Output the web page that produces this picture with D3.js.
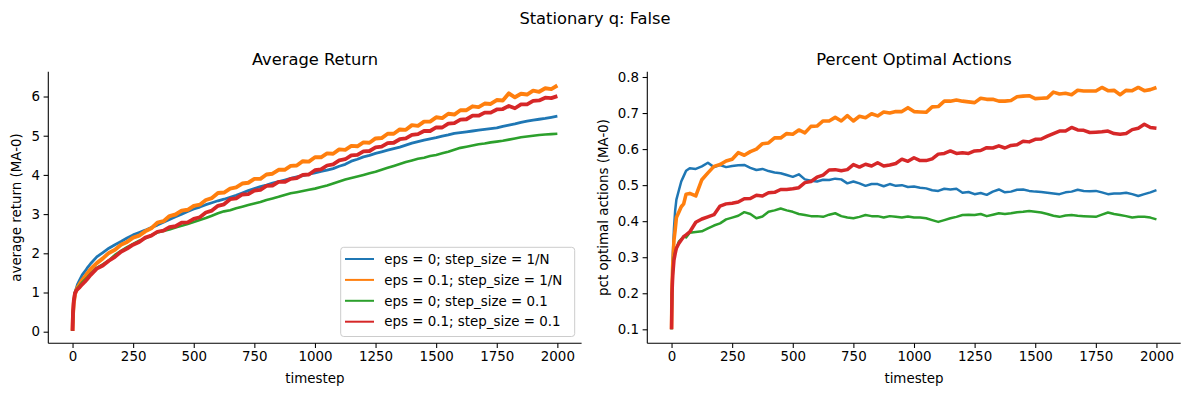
<!DOCTYPE html>
<html>
<head>
<meta charset="utf-8">
<script src="https://cdn.jsdelivr.net/npm/d3@7"></script>
<style>
  html, body { margin: 0; padding: 0; background: #ffffff; }
  svg text { font-family: "DejaVu Sans", sans-serif; fill: #000; }
</style>
</head>
<body>
<svg id="chart" width="1189" height="396"></svg>
<script>
// ---------------- DATA ----------------
const timesteps = [0,2,5,10,15,20,30,40,50,60,75,
  100,125,150,175,200,225,250,275,300,325,350,375,400,425,450,475,500,525,550,575,
  600,625,650,675,700,725,750,775,800,825,850,875,900,925,950,975,1000,1025,1050,1075,
  1100,1125,1150,1175,1200,1225,1250,1275,1300,1325,1350,1375,1400,1425,1450,1475,1500,
  1525,1550,1575,1600,1625,1650,1675,1700,1725,1750,1775,1800,1825,1850,1875,1900,1925,
  1950,1975,2000];

const seriesLabels = [
  "eps = 0; step_size = 1/N",
  "eps = 0.1; step_size = 1/N",
  "eps = 0; step_size = 0.1",
  "eps = 0.1; step_size = 0.1"
];
const seriesColors = ["#1f77b4", "#ff7f0e", "#2ca02c", "#d62728"];

// Average return (MA-0)
const returnEps0Inv = [0.02,0.45,0.75,1.0,1.1,1.2,1.33,1.45,1.53,1.62,1.74,
  1.91,2.02,2.13,2.22,2.30,2.39,2.47,2.53,2.59,2.66,2.72,2.79,2.86,2.93,3.00,3.07,3.13,3.18,3.24,3.29,
  3.34,3.38,3.43,3.48,3.54,3.60,3.65,3.70,3.74,3.79,3.83,3.87,3.91,3.95,3.98,4.02,4.05,4.09,4.12,4.16,
  4.22,4.27,4.35,4.40,4.46,4.50,4.55,4.59,4.63,4.67,4.71,4.76,4.81,4.85,4.89,4.92,4.95,
  4.99,5.02,5.06,5.08,5.10,5.12,5.14,5.16,5.18,5.20,5.24,5.27,5.30,5.34,5.37,5.40,5.42,
  5.44,5.47,5.50];
const returnEps01Inv = [0.02,0.45,0.72,0.95,1.05,1.12,1.22,1.32,1.40,1.48,1.60,
  1.75,1.87,2.01,2.09,2.22,2.29,2.40,2.45,2.56,2.64,2.78,2.82,2.95,2.99,3.09,3.11,3.21,3.24,3.36,3.41,
  3.54,3.55,3.65,3.68,3.78,3.80,3.90,3.90,4.01,4.03,4.13,4.13,4.23,4.24,4.35,4.34,4.45,4.45,4.55,4.54,
  4.65,4.64,4.74,4.73,4.83,4.82,4.93,4.94,5.05,5.05,5.16,5.15,5.27,5.25,5.36,5.36,5.47,
  5.45,5.56,5.54,5.65,5.65,5.75,5.73,5.82,5.81,5.91,5.90,6.08,5.98,6.07,6.05,6.15,6.12,
  6.21,6.19,6.28];
const returnEps0Const = [0.02,0.5,0.78,1.0,1.06,1.10,1.18,1.26,1.32,1.38,1.48,
  1.63,1.72,1.82,1.96,2.06,2.16,2.24,2.32,2.38,2.46,2.53,2.57,2.61,2.66,2.70,2.75,2.80,2.85,2.90,2.96,
  3.02,3.07,3.10,3.15,3.19,3.23,3.27,3.31,3.36,3.40,3.44,3.49,3.53,3.56,3.59,3.62,3.65,3.69,3.73,3.78,
  3.83,3.88,3.92,3.96,4.00,4.04,4.08,4.13,4.18,4.23,4.28,4.33,4.37,4.41,4.44,4.48,4.51,
  4.55,4.59,4.64,4.69,4.72,4.75,4.78,4.80,4.83,4.85,4.87,4.90,4.93,4.96,4.98,5.00,5.02,
  5.03,5.04,5.05];
const returnEps01Const = [0.02,0.5,0.78,0.98,1.04,1.08,1.14,1.21,1.27,1.34,1.45,
  1.61,1.69,1.81,1.91,2.04,2.12,2.22,2.29,2.40,2.45,2.55,2.58,2.67,2.69,2.78,2.79,2.88,2.92,3.04,3.09,
  3.21,3.25,3.38,3.40,3.50,3.51,3.60,3.62,3.72,3.73,3.82,3.82,3.90,3.92,4.00,4.01,4.12,4.14,4.24,4.27,
  4.37,4.40,4.50,4.51,4.60,4.61,4.70,4.72,4.81,4.82,4.91,4.93,5.02,5.04,5.12,5.12,5.21,
  5.21,5.31,5.32,5.41,5.42,5.51,5.51,5.59,5.59,5.67,5.68,5.76,5.70,5.80,5.80,5.89,5.90,
  5.97,5.96,6.01];

// Percent optimal actions (MA-0)
const optEps0Inv = [0.10,0.22,0.30,0.38,0.43,0.46,0.485,0.51,0.525,0.54,0.547,
  0.545,0.552,0.562,0.55,0.556,0.55,0.553,0.555,0.556,0.548,0.542,0.545,0.539,0.535,0.533,0.528,0.523,0.53,0.516,0.512,
  0.51,0.515,0.514,0.518,0.516,0.505,0.51,0.505,0.498,0.503,0.503,0.497,0.503,0.498,0.5,0.495,0.496,0.493,0.491,0.486,
  0.484,0.49,0.488,0.49,0.479,0.481,0.475,0.478,0.473,0.482,0.488,0.48,0.482,0.487,0.488,0.484,0.482,
  0.481,0.479,0.477,0.475,0.48,0.482,0.487,0.484,0.483,0.484,0.48,0.475,0.477,0.477,0.479,0.475,0.47,
  0.475,0.48,0.486];
const optEps01Inv = [0.10,0.22,0.28,0.348,0.376,0.41,0.425,0.44,0.448,0.475,0.477,
  0.47,0.515,0.534,0.552,0.557,0.567,0.572,0.59,0.583,0.593,0.60,0.615,0.617,0.631,0.631,0.643,0.641,0.653,0.645,0.663,
  0.664,0.678,0.678,0.688,0.678,0.693,0.678,0.691,0.687,0.698,0.692,0.703,0.70,0.704,0.704,0.715,0.704,0.703,0.702,0.717,
  0.718,0.733,0.733,0.736,0.733,0.731,0.729,0.741,0.738,0.738,0.733,0.733,0.735,0.745,0.747,0.748,0.74,
  0.741,0.742,0.758,0.753,0.755,0.751,0.763,0.761,0.761,0.761,0.771,0.762,0.763,0.751,0.763,0.762,0.771,
  0.762,0.765,0.771];
const optEps0Const = [0.10,0.20,0.26,0.30,0.315,0.325,0.343,0.35,0.358,0.355,0.368,
  0.37,0.372,0.38,0.388,0.394,0.405,0.41,0.415,0.425,0.42,0.408,0.413,0.426,0.43,0.435,0.43,0.426,0.42,0.417,0.414,
  0.414,0.412,0.418,0.422,0.414,0.41,0.408,0.412,0.417,0.414,0.414,0.41,0.414,0.412,0.41,0.413,0.41,0.41,0.408,0.403,
  0.398,0.403,0.408,0.412,0.417,0.418,0.417,0.42,0.414,0.418,0.422,0.42,0.422,0.425,0.426,0.428,0.426,
  0.424,0.42,0.415,0.412,0.416,0.417,0.415,0.414,0.413,0.412,0.418,0.424,0.42,0.417,0.414,0.41,0.412,
  0.412,0.41,0.405];
const optEps01Const = [0.10,0.20,0.25,0.292,0.31,0.325,0.338,0.348,0.357,0.362,0.37,
  0.397,0.406,0.412,0.418,0.442,0.448,0.45,0.453,0.462,0.463,0.472,0.47,0.479,0.48,0.488,0.488,0.49,0.493,0.507,0.51,
  0.522,0.528,0.542,0.543,0.54,0.543,0.557,0.55,0.558,0.553,0.562,0.553,0.556,0.56,0.572,0.566,0.576,0.568,0.568,0.573,
  0.586,0.588,0.595,0.588,0.59,0.588,0.595,0.596,0.604,0.603,0.609,0.603,0.61,0.612,0.622,0.62,0.627,
  0.628,0.636,0.643,0.65,0.65,0.66,0.653,0.652,0.646,0.647,0.648,0.65,0.643,0.641,0.643,0.654,0.658,
  0.669,0.66,0.658];

const returnTicks = [0,1,2,3,4,5,6];
const optTicks = [0.1,0.2,0.3,0.4,0.5,0.6,0.7,0.8];
const stepTicks = [0,250,500,750,1000,1250,1500,1750,2000];

// ---------------- DRAW ----------------
const svg = d3.select("#chart");

svg.append("text")
  .attr("x", 595).attr("y", 24)
  .attr("text-anchor", "middle")
  .style("font-size", "16.3px")
  .text("Stationary q: False");

function drawPanel(opts) {
  const x = d3.scaleLinear().domain([-100, 2100]).range([opts.left, opts.right]);
  const y = d3.scaleLinear().domain(opts.ylim).range([343.3, 71.7]);
  const g = svg.append("g");

  // lines (stroke width mimics the visual thickness of the noisy curves)
  const line = d3.line().x((d, i) => x(timesteps[i])).y(d => y(d));
  opts.series.forEach((s, k) => {
    g.append("path")
      .datum(s)
      .attr("fill", "none")
      .attr("stroke", seriesColors[k])
      .attr("stroke-width", opts.widths[k])
      .attr("stroke-linejoin", "round")
      .attr("stroke-linecap", "butt")
      .attr("d", line);
  });

  // axes
  const xAxis = d3.axisBottom(x).tickValues(stepTicks).tickSize(4.7).tickPadding(3.5)
    .tickFormat(d3.format("d"));
  const gx = g.append("g").attr("transform", "translate(0,343.3)").call(xAxis);
  const yAxis = d3.axisLeft(y).tickValues(opts.ticks).tickSize(4.7).tickPadding(3.5)
    .tickFormat(opts.fmt);
  const gy = g.append("g").attr("transform", `translate(${opts.left},0)`).call(yAxis);
  [gx, gy].forEach(a => {
    a.select(".domain").attr("stroke", "#000").attr("stroke-width", 1.07);
    a.selectAll(".tick line").attr("stroke", "#000").attr("stroke-width", 1.07);
    a.selectAll(".tick text").style("font-size", "13.4px").style("font-family", "DejaVu Sans").attr("fill", "#000");
  });
  gx.select(".domain").attr("d", `M${opts.left},0H${opts.right}`);
  gy.select(".domain").attr("d", `M0,343.3V71.7`);

  // title
  g.append("text")
    .attr("x", (opts.left + opts.right) / 2).attr("y", 64.5)
    .attr("text-anchor", "middle").style("font-size", "16.3px")
    .text(opts.title);
  // x label
  g.append("text")
    .attr("x", (opts.left + opts.right) / 2).attr("y", 383)
    .attr("text-anchor", "middle").style("font-size", "13.4px")
    .text("timestep");
  // y label
  g.append("text")
    .attr("transform", `translate(${opts.ylabelX},207.5) rotate(-90)`)
    .attr("text-anchor", "middle").style("font-size", "13.4px")
    .text(opts.ylabel);
  return g;
}

drawPanel({
  left: 48.3, right: 581.6, ylim: [-0.296, 6.633],
  series: [returnEps0Inv, returnEps01Inv, returnEps0Const, returnEps01Const],
  widths: [2.8, 3.9, 2.6, 3.8],
  ticks: returnTicks, fmt: d3.format("d"),
  title: "Average Return", ylabel: "average return (MA-0)", ylabelX: 20.5
});

drawPanel({
  left: 647.3, right: 1180.7, ylim: [0.0612, 0.8147],
  series: [optEps0Inv, optEps01Inv, optEps0Const, optEps01Const],
  widths: [2.5, 3.6, 2.5, 3.5],
  ticks: optTicks, fmt: d3.format(".1f"),
  title: "Percent Optimal Actions", ylabel: "pct optimal actions (MA-0)", ylabelX: 607.5
});

// legend (left panel)
const leg = svg.append("g");
leg.append("rect")
  .attr("x", 340.7).attr("y", 247.3).attr("width", 234).attr("height", 89.2)
  .attr("rx", 3).attr("ry", 3)
  .attr("fill", "#ffffff").attr("fill-opacity", 0.8)
  .attr("stroke", "#cccccc").attr("stroke-width", 1);
const rowY = d3.scaleLinear().domain([0, 3]).range([259, 321.7]);
seriesLabels.forEach((lab, k) => {
  leg.append("line")
    .attr("x1", 345).attr("x2", 374)
    .attr("y1", rowY(k)).attr("y2", rowY(k))
    .attr("stroke", seriesColors[k]).attr("stroke-width", 2);
  leg.append("text")
    .attr("x", 384.3).attr("y", rowY(k) + 4.7)
    .style("font-size", "13.4px")
    .text(lab);
});
</script>
</body>
</html>
